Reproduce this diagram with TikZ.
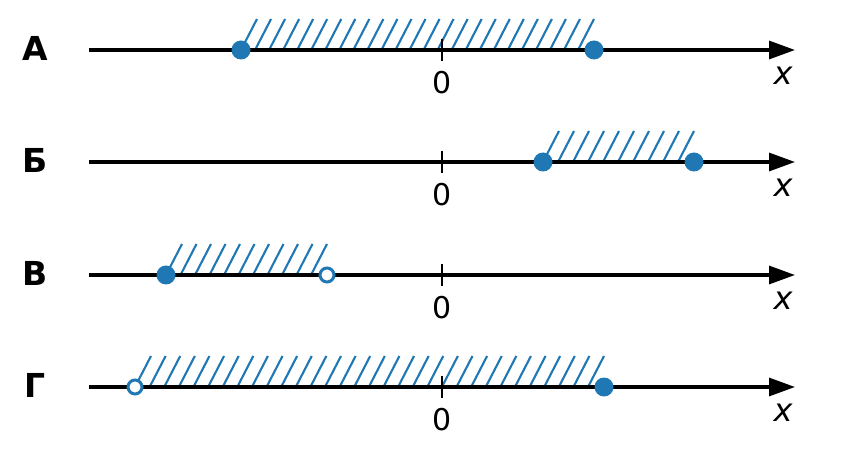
\documentclass[tikz,border=0pt]{standalone}
\usepackage{fontspec}
\setmainfont{DejaVu Sans}
\usetikzlibrary{arrows.meta}
\definecolor{mblue}{HTML}{1F77B4}
\tikzset{
 axisline/.style={line width=3.2pt, -{Triangle[length=26pt,width=18pt]}},
 tickmark/.style={line width=2.6pt},
 hatchline/.style={mblue, line width=2.1pt},
 closeddot/.style={circle, fill=mblue, inner sep=0pt, minimum size=19pt},
 opendot/.style={circle, draw=mblue, fill=white, line width=3pt, inner sep=0pt, minimum size=14pt},
 rowlabel/.style={font=\fontsize{33}{33}\selectfont\bfseries, inner sep=0pt},
 zerolabel/.style={font=\fontsize{30}{30}\selectfont, inner sep=0pt},
 xlab/.style={font=\fontsize{32}{32}\selectfont\itshape, inner sep=0pt},
}
\begin{document}
\begin{tikzpicture}[x=1pt,y=-1pt]
\useasboundingbox (0,0) rectangle (854,462);
% row data: name / y / a / b / n / left type / right type / letter
\foreach \r/\yy/\aa/\bb/\nn/\lt/\rt/\lab in {
  1/50/241/594/25/closeddot/closeddot/А,
  2/162/543/694/10/closeddot/closeddot/Б,
  3/275/166/327/11/closeddot/opendot/В,
  4/387/135/604/32/opendot/closeddot/Г}{
  \pgfmathsetmacro{\ss}{(\bb-16-\aa)/(\nn-1)}
  \pgfmathtruncatemacro{\nm}{\nn-1}
  \foreach \k in {0,...,\nm}{
    \draw[hatchline] ({\aa+\k*\ss},\yy) -- ++(16,-31);
  }
  \coordinate (s\r) at (89,\yy);
  \coordinate (e\r) at (795,\yy);
  \draw[axisline] (s\r) -- (e\r);
  \coordinate (tt\r) at (442,\yy-11);
  \coordinate (tb\r) at (442,\yy+11);
  \draw[tickmark] (tt\r) -- (tb\r);
  \node[zerolabel] (z\r) at (442,\yy+33) {0};
  \node[xlab] (x\r) at (783,\yy+26) {x};
  \node[rowlabel] (l\r) at (35,\yy-2) {\lab};
  \node[\lt] (p\r) at (\aa,\yy) {};
  \node[\rt] (q\r) at (\bb,\yy) {};
}
\end{tikzpicture}
\end{document}
